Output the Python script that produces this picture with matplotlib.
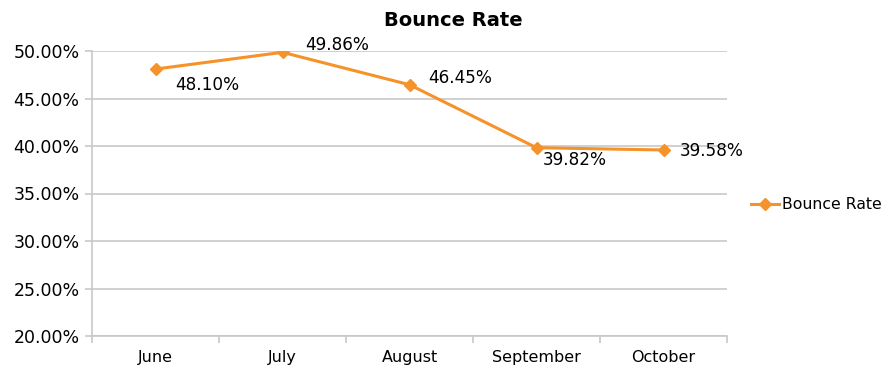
import matplotlib
matplotlib.use('Agg')
import matplotlib.pyplot as plt
from matplotlib.ticker import FuncFormatter, MultipleLocator

months = ['June', 'July', 'August', 'September', 'October']
bounce_rate = [48.10, 49.86, 46.45, 39.82, 39.58]
# label offsets (pixels) relative to each point
label_dx = [20, 23, 19, 6, 16]
label_dy = [-16, 7, 7, -12, -1]

orange = '#f5922a'
grid_c = '#c8c8c8'

plt.rcParams['font.family'] = ['DejaVu Sans']

fig = plt.figure(figsize=(8.94, 3.76), dpi=100)
ax = fig.add_axes([92 / 894, 40 / 376, 635 / 894, 285 / 376])

x = list(range(len(months)))
ax.plot(x, bounce_rate, color=orange, linewidth=2.2, marker='D', markersize=6,
        label='Bounce Rate', zorder=3)

for i, v in enumerate(bounce_rate):
    ax.annotate(f'{v:.2f}%', (x[i], v), xytext=(label_dx[i], label_dy[i]),
                textcoords='offset pixels', ha='left', va='center', fontsize=12.2)

ax.set_xlim(-0.5, len(months) - 0.5)
ax.set_ylim(20, 50)
ax.yaxis.set_major_locator(MultipleLocator(5))
ax.yaxis.set_major_formatter(FuncFormatter(lambda v, p: f'{v:.2f}%'))
ax.grid(axis='y', color=grid_c, linewidth=1.2)
ax.set_axisbelow(True)

# category boundary ticks on x axis
ax.set_xticks([i - 0.5 for i in range(len(months) + 1)])
ax.set_xticklabels([])
ax.set_xticks(x, minor=True)
ax.set_xticklabels(months, minor=True, fontsize=11.5)
ax.tick_params(axis='x', which='minor', length=0, pad=10)
ax.tick_params(axis='x', which='major', length=5, color=grid_c, width=1.2)
ax.tick_params(axis='y', length=5, color=grid_c, width=1.2, labelsize=12.5, pad=4)

for s in ['top', 'right']:
    ax.spines[s].set_visible(False)
for s in ['left', 'bottom']:
    ax.spines[s].set_color(grid_c)
    ax.spines[s].set_linewidth(1.2)

fig.text(453 / 894, 1 - 20 / 376, 'Bounce Rate', fontsize=14, fontweight='bold',
         ha='center', va='center')

ax.legend(loc='center left', bbox_to_anchor=(1.015, 0.46), frameon=False,
          fontsize=11.3, handlelength=1.8, handletextpad=0.2)

fig.savefig('out.png', dpi=100)
